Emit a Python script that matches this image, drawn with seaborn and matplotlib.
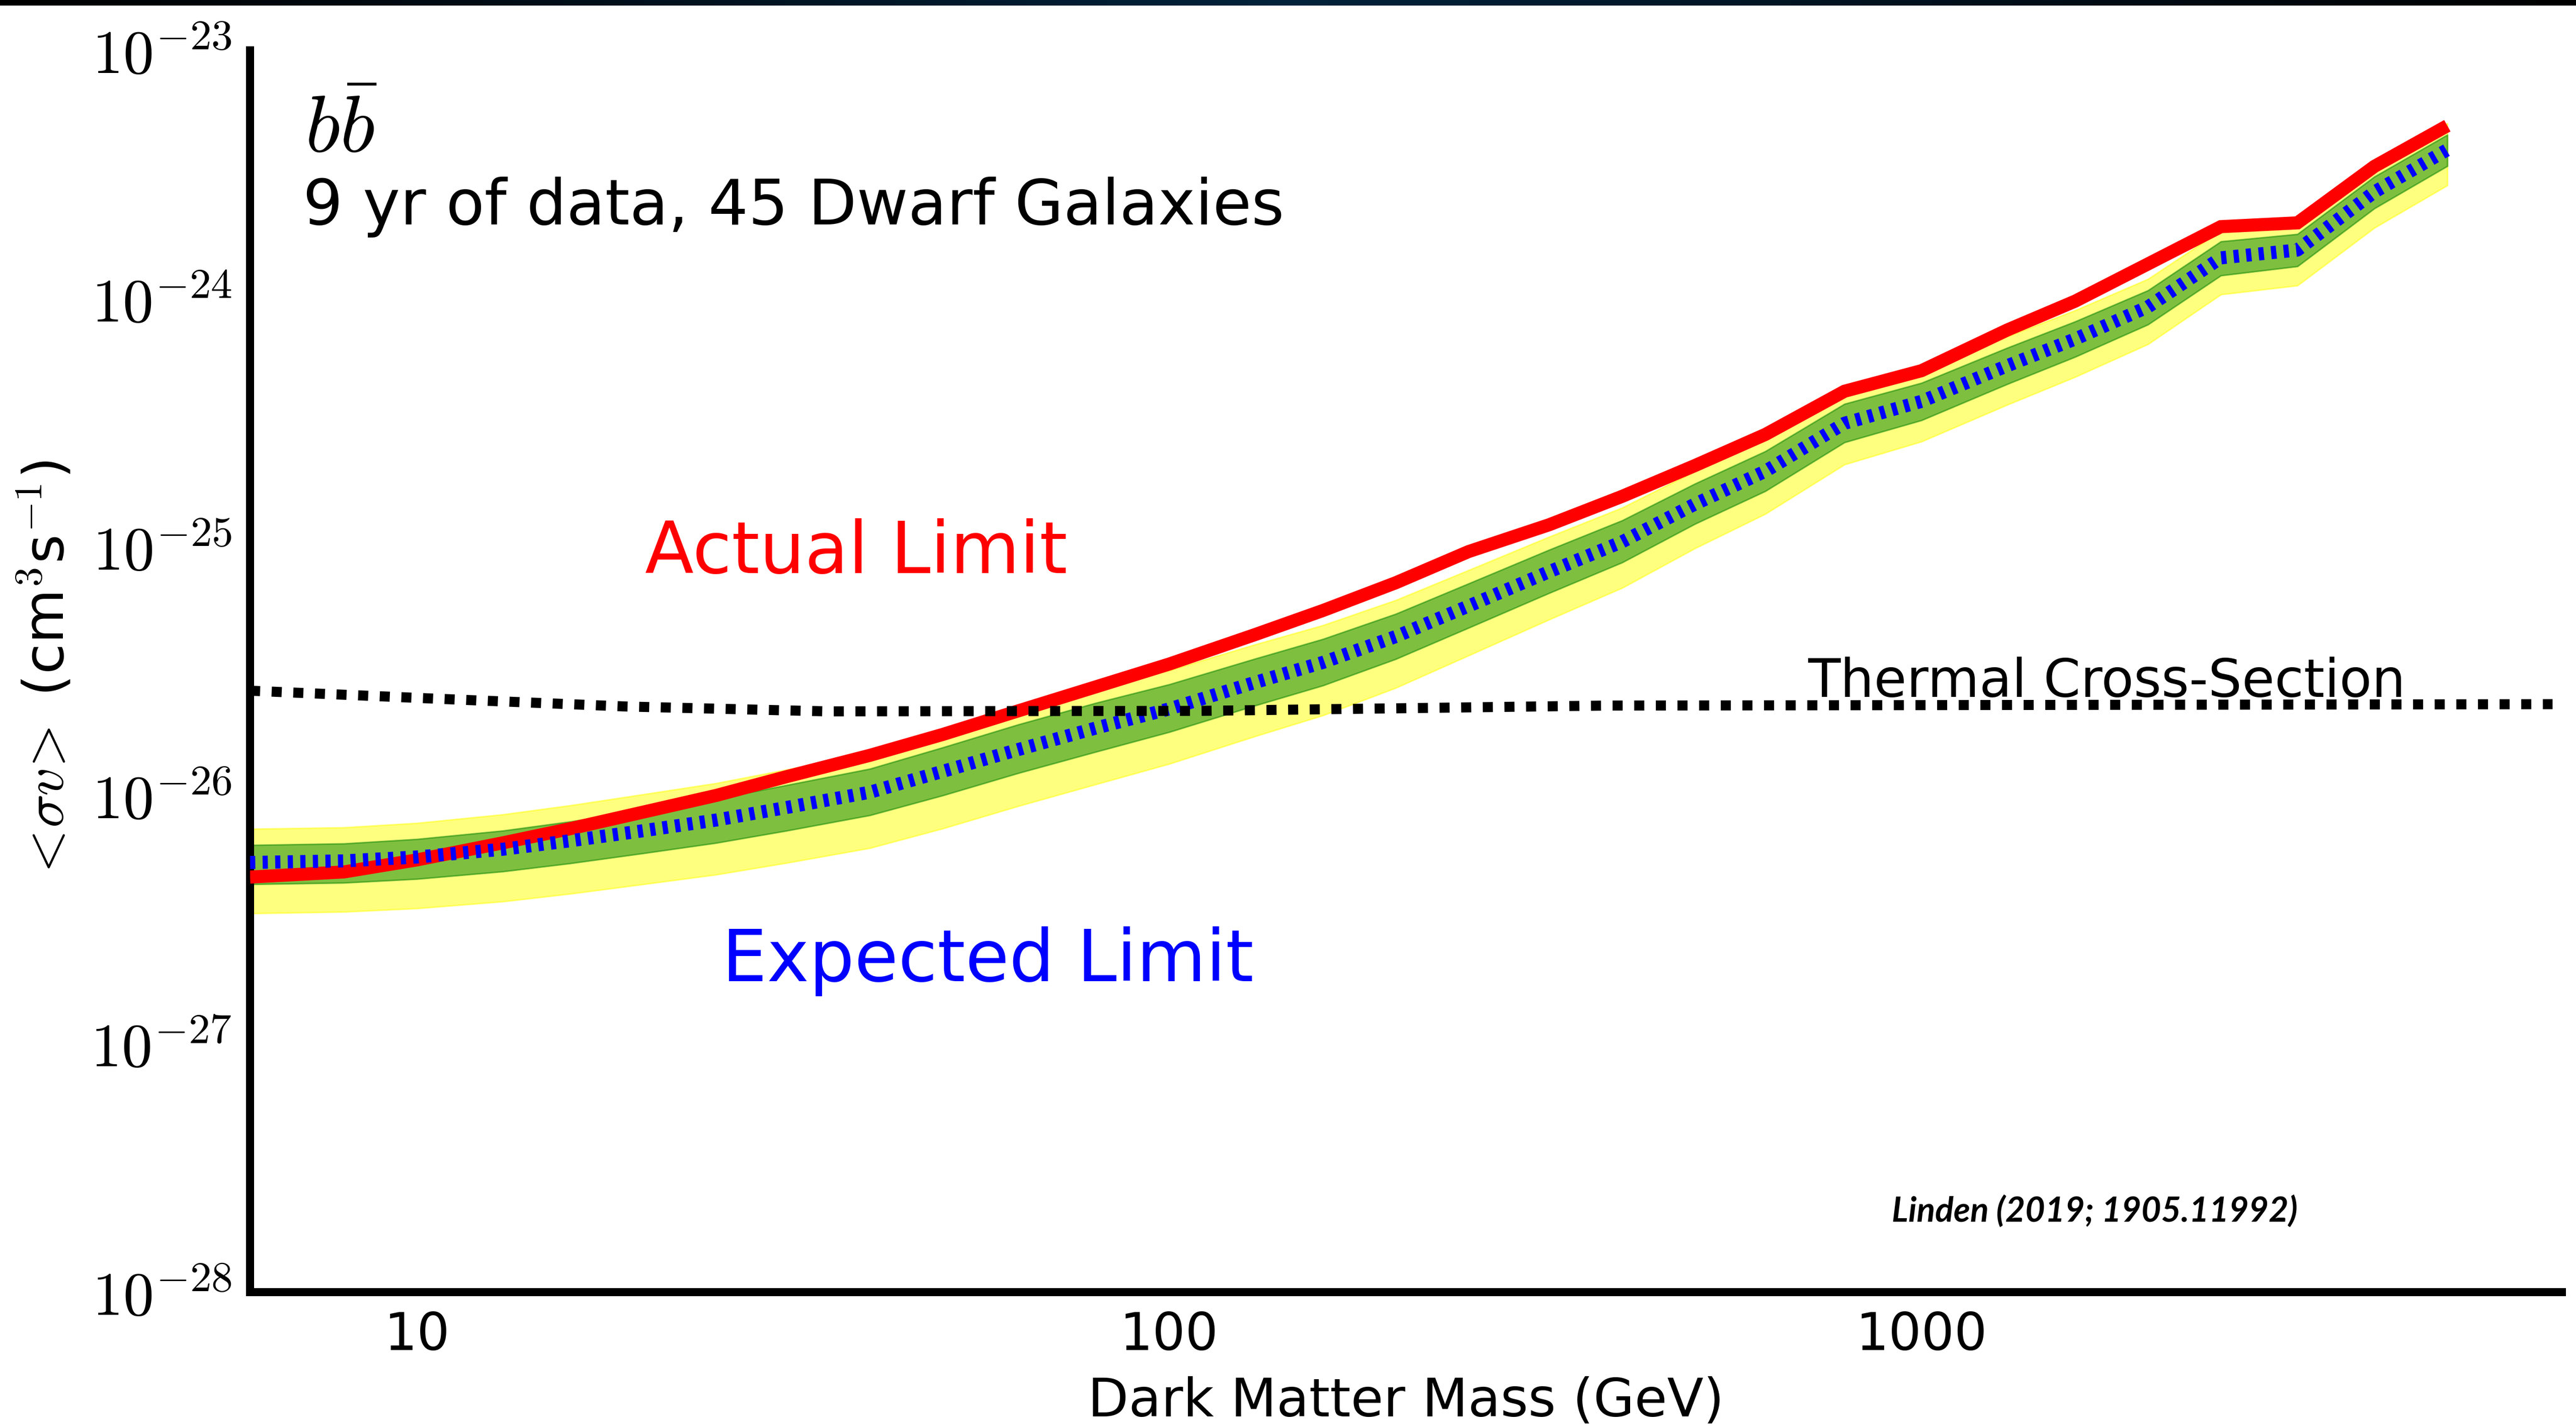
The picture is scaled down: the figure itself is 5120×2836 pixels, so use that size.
import numpy as np
import matplotlib
matplotlib.use("Agg")
import matplotlib.pyplot as plt
from matplotlib.colors import LinearSegmentedColormap
from matplotlib.ticker import NullLocator
import seaborn as sns

# Dark matter mass grid (GeV)
mass = [6, 8, 10, 13, 16, 20, 25, 31, 40, 50, 63, 80, 100, 130, 160, 200, 250,
        320, 400, 500, 620, 790, 1000, 1300, 1600, 2000, 2500, 3160, 4000, 5000]

# Observed 95% upper limit on <sigma v> (cm^3 s^-1), b-bbar channel
actual_limit = [4.69e-27, 4.92e-27, 5.50e-27, 6.44e-27, 7.35e-27, 8.57e-27, 1.00e-26,
                1.19e-26, 1.45e-26, 1.76e-26, 2.19e-26, 2.74e-26, 3.38e-26, 4.44e-26,
                5.55e-26, 7.18e-26, 9.59e-26, 1.23e-25, 1.60e-25, 2.13e-25, 2.84e-25,
                4.24e-25, 5.13e-25, 7.48e-25, 9.77e-25, 1.38e-24, 1.95e-24, 2.02e-24,
                3.41e-24, 4.97e-24]

# Median expected limit and containment bands
expected_limit = [5.37e-27, 5.45e-27, 5.65e-27, 6.07e-27, 6.57e-27, 7.21e-27, 7.96e-27,
                  8.94e-27, 1.03e-26, 1.25e-26, 1.53e-26, 1.87e-26, 2.23e-26, 2.85e-26,
                  3.43e-26, 4.36e-26, 5.79e-26, 7.96e-26, 1.05e-25, 1.49e-25, 2.02e-25,
                  3.15e-25, 3.86e-25, 5.37e-25, 6.88e-25, 9.27e-25, 1.46e-24, 1.57e-24,
                  2.69e-24, 3.98e-24]
band68_hi = [6.31e-27, 6.40e-27, 6.67e-27, 7.21e-27, 7.85e-27, 8.71e-27, 9.70e-27,
             1.10e-26, 1.28e-26, 1.56e-26, 1.93e-26, 2.36e-26, 2.80e-26, 3.55e-26,
             4.26e-26, 5.38e-26, 7.13e-26, 9.75e-26, 1.28e-25, 1.80e-25, 2.43e-25,
             3.77e-25, 4.58e-25, 6.34e-25, 8.09e-25, 1.08e-24, 1.70e-24, 1.82e-24,
             3.10e-24, 4.57e-24]
band68_lo = [4.39e-27, 4.45e-27, 4.61e-27, 4.94e-27, 5.33e-27, 5.85e-27, 6.44e-27,
             7.21e-27, 8.32e-27, 1.00e-26, 1.23e-26, 1.50e-26, 1.80e-26, 2.30e-26,
             2.77e-26, 3.54e-26, 4.73e-26, 6.53e-26, 8.67e-26, 1.24e-25, 1.68e-25,
             2.64e-25, 3.24e-25, 4.53e-25, 5.83e-25, 7.87e-25, 1.24e-24, 1.35e-24,
             2.31e-24, 3.42e-24]
band95_hi = [7.33e-27, 7.43e-27, 7.74e-27, 8.38e-27, 9.12e-27, 1.01e-26, 1.12e-26,
             1.27e-26, 1.47e-26, 1.78e-26, 2.19e-26, 2.68e-26, 3.19e-26, 4.05e-26,
             4.84e-26, 6.11e-26, 8.07e-26, 1.10e-25, 1.44e-25, 2.02e-25, 2.72e-25,
             4.20e-25, 5.09e-25, 7.05e-25, 8.97e-25, 1.20e-24, 1.88e-24, 2.03e-24,
             3.45e-24, 5.08e-24]
band95_lo = [3.35e-27, 3.40e-27, 3.51e-27, 3.74e-27, 4.02e-27, 4.39e-27, 4.80e-27,
             5.35e-27, 6.14e-27, 7.36e-27, 9.06e-27, 1.11e-26, 1.34e-26, 1.73e-26,
             2.10e-26, 2.71e-26, 3.66e-26, 5.11e-26, 6.85e-26, 9.89e-26, 1.36e-25,
             2.15e-25, 2.66e-25, 3.74e-25, 4.84e-25, 6.56e-25, 1.04e-24, 1.13e-24,
             1.93e-24, 2.86e-24]

# Thermal relic cross-section
thermal_mass = [6, 11, 19, 35, 110, 380, 6900]
thermal_xsec = [2.64e-26, 2.44e-26, 2.28e-26, 2.18e-26, 2.19e-26, 2.30e-26, 2.33e-26]

x_ticks = [10, 100, 1000]
x_tick_labels = ["10", "100", "1000"]
y_ticks = [1e-28, 1e-27, 1e-26, 1e-25, 1e-24, 1e-23]
y_tick_labels = [r"$10^{-28}$", r"$10^{-27}$", r"$10^{-26}$",
                 r"$10^{-25}$", r"$10^{-24}$", r"$10^{-23}$"]

sns.set_theme(style="white")
plt.rcParams["font.family"] = ["DejaVu Sans"]
plt.rcParams["mathtext.fontset"] = "cm"

DPI = 200
W, H = 5120, 2836


def px(n):
    """pixels -> points"""
    return n * 72.0 / DPI


fig = plt.figure(figsize=(W / DPI, H / DPI), dpi=DPI)
fig.patch.set_facecolor("white")

# thin dark banner along the top edge
band_ax = fig.add_axes([0, 1 - 11 / H, 1, 11 / H])
banner = LinearSegmentedColormap.from_list(
    "banner", ["#000000", "#00101c", "#00223a", "#00101c", "#000000"])
band_ax.imshow(np.linspace(0, 1, 512)[None, :], aspect="auto", cmap=banner)
band_ax.set_axis_off()

left, right, bottom, top = 497 / W, 5092 / W, 1 - 2568 / H, 1 - 100 / H
ax = fig.add_axes([left, bottom, right - left, top - bottom])
ax.set_facecolor("white")
ax.set_xscale("log")
ax.set_yscale("log")
ax.set_xlim(6, 7100)
ax.set_ylim(1e-28, 1e-23)

# containment bands
ax.fill_between(mass, band95_lo, band95_hi, color="yellow", alpha=0.5,
                lw=px(3), zorder=1)
ax.fill_between(mass, band68_lo, band68_hi, color="green", alpha=0.5,
                lw=px(3), zorder=2)

# observed limit
sns.lineplot(x=mass, y=actual_limit, ax=ax, color="red", lw=px(26),
             solid_capstyle="butt", solid_joinstyle="miter", zorder=3)
# expected limit
sns.lineplot(x=mass, y=expected_limit, ax=ax, color="blue", lw=px(26),
             linestyle=(0, (0.4, 0.56)), dash_capstyle="butt", zorder=4)
# thermal relic line
sns.lineplot(x=thermal_mass, y=thermal_xsec, ax=ax, color="black", lw=px(20),
             linestyle=(0, (1.0, 1.15)), dash_capstyle="butt", zorder=5)

for side in ("top", "right"):
    ax.spines[side].set_visible(False)
for side in ("left", "bottom"):
    ax.spines[side].set_linewidth(px(16))
    ax.spines[side].set_color("black")

ax.set_xticks(x_ticks)
ax.set_xticklabels(x_tick_labels)
ax.set_yticks(y_ticks)
ax.set_yticklabels(y_tick_labels)
ax.xaxis.set_minor_locator(NullLocator())
ax.yaxis.set_minor_locator(NullLocator())
ax.tick_params(axis="both", which="major", direction="in", length=px(9),
               width=px(2), color="black", labelcolor="black")
ax.tick_params(axis="x", labelsize=37, pad=13)
ax.tick_params(axis="y", labelsize=44, pad=13)
ax.grid(False)

ax.set_xlabel("Dark Matter Mass (GeV)", fontsize=38, color="black")
ax.xaxis.set_label_coords(0.5, (2568 - 2735) / 2468)
ax.set_ylabel(r"$<\!\sigma v\!>$ (cm$^3$s$^{-1}$)", fontsize=40,
              color="black")
ax.yaxis.set_label_coords((150 - 497) / 4595, 0.5)


def put(x, y, s, **kw):
    fig.text(x / W, 1 - y / H, s, ha="left", va="baseline", **kw)


put(606, 302, r"$b\bar{b}$", fontsize=58, color="black")
put(602, 446, "9 yr of data, 45 Dwarf Galaxies", fontsize=45, color="black")
put(1282, 1139, "Actual Limit", fontsize=51, color="red")
put(1435, 1950, "Expected Limit", fontsize=51, color="blue")
put(3593, 1385, "Thermal Cross-Section", fontsize=38, color="black")
put(3760, 2427, "Linden (2019; 1905.11992)", fontsize=24.5, color="black",
    family=["Lato", "DejaVu Sans"], fontweight="bold", fontstyle="italic")

fig.savefig("out.png", dpi=DPI, facecolor="white")
